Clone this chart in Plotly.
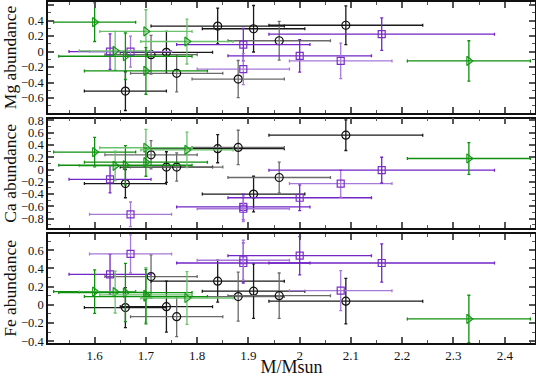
import plotly.graph_objects as go

# ---------------- data ----------------
mass_black = [1.66, 1.71, 1.74, 1.76, 1.84, 1.88, 1.91, 1.96, 2.09]
mass_black_err = [0.08, 0.09, 0.09, 0.09, 0.13, 0.09, 0.10, 0.10, 0.15]
mg_black = [-0.51, -0.04, -0.01, -0.28, 0.33, -0.355, 0.295, 0.14, 0.34]
mg_black_err = [0.25, 0.25, 0.27, 0.24, 0.23, 0.24, 0.30, 0.25, 0.25]
ca_black = [-0.23, 0.24, 0.04, 0.04, 0.34, 0.36, -0.40, -0.13, 0.56]
ca_black_err = [0.23, 0.23, 0.25, 0.23, 0.23, 0.28, 0.29, 0.25, 0.25]
fe_black = [-0.03, 0.31, -0.02, -0.13, 0.26, 0.09, 0.15, 0.10, 0.04]
fe_black_err = [0.22, 0.24, 0.28, 0.22, 0.23, 0.27, 0.30, 0.25, 0.25]

mass_purple = [1.63, 1.67, 1.89, 1.89, 2.00, 2.08, 2.16]
mass_purple_err = [0.08, 0.08, 0.13, 0.09, 0.14, 0.10, 0.22]
mg_purple = [0.00, 0.00, 0.09, -0.225, -0.055, -0.12, 0.225]
mg_purple_err = [0.23, 0.20, 0.21, 0.20, 0.21, 0.23, 0.21]
ca_purple = [-0.16, -0.73, -0.61, -0.64, -0.46, -0.23, -0.01]
ca_purple_err = [0.22, 0.20, 0.21, 0.21, 0.21, 0.22, 0.21]
fe_purple = [0.335, 0.56, 0.46, 0.49, 0.54, 0.155, 0.46]
fe_purple_err = [0.22, 0.21, 0.22, 0.22, 0.21, 0.22, 0.21]

mass_green = [1.60, 1.64, 1.66, 1.70, 1.70, 1.78, 2.33]
mass_green_err = [0.08, 0.07, 0.13, 0.09, 0.12, 0.09, 0.12]
mg_green = [0.38, 0.01, -0.06, 0.26, -0.25, 0.13, -0.12]
mg_green_err = [0.25, 0.25, 0.30, 0.28, 0.30, 0.29, 0.26]
ca_green = [0.285, 0.06, 0.07, 0.355, 0.12, 0.32, 0.18]
ca_green_err = [0.24, 0.24, 0.32, 0.30, 0.23, 0.29, 0.26]
fe_green = [0.145, 0.14, 0.135, 0.11, 0.09, 0.075, -0.155]
fe_green_err = [0.24, 0.23, 0.32, 0.30, 0.30, 0.29, 0.26]

x_ticks = [1.6, 1.7, 1.8, 1.9, 2.0, 2.1, 2.2, 2.3, 2.4]
x_ticktext = ["1.6", "1.7", "1.8", "1.9", "2", "2.1", "2.2", "2.3", "2.4"]
mg_ticks = [0.6, 0.4, 0.2, 0, -0.2, -0.4, -0.6]
mg_ticktext = ["0.6", "0.4", "0.2", "0", "−0.2", "−0.4", "−0.6"]
ca_ticks = [0.8, 0.6, 0.4, 0.2, 0, -0.2, -0.4, -0.6, -0.8]
ca_ticktext = ["0.8", "0.6", "0.4", "0.2", "0", "−0.2", "−0.4", "−0.6", "−0.8"]
fe_ticks = [0.6, 0.4, 0.2, 0, -0.2, -0.4]
fe_ticktext = ["0.6", "0.4", "0.2", "0", "−0.2", "−0.4"]

# ---------------- figure ----------------
FONT = "Liberation Serif, Times New Roman, serif"
fig = go.Figure()

series = [
    (mass_black, mass_black_err,
     [(mg_black, mg_black_err), (ca_black, ca_black_err), (fe_black, fe_black_err)],
     "circle-open", "#111111", ["#1a1a1a", "#6a6a6a"], 8),
    (mass_purple, mass_purple_err,
     [(mg_purple, mg_purple_err), (ca_purple, ca_purple_err), (fe_purple, fe_purple_err)],
     "square-open", "#7a2fc8", ["#7226c6", "#a77ad8"], 7),
    (mass_green, mass_green_err,
     [(mg_green, mg_green_err), (ca_green, ca_green_err), (fe_green, fe_green_err)],
     "triangle-right-open", "#129a12", ["#0f8f0f", "#6cc26c"], 8),
]

axis_names = [("x", "y"), ("x2", "y2"), ("x3", "y3")]

for mass, merr, panels, sym, mcol, bcols, msize in series:
    for p, (vals, errs) in enumerate(panels):
        xa, ya = axis_names[p]
        for i in range(len(mass)):
            bc = bcols[i % 2]
            fig.add_trace(go.Scatter(
                x=[mass[i]], y=[vals[i]], xaxis=xa, yaxis=ya,
                mode="markers",
                marker=dict(symbol=sym, size=msize, color=mcol,
                            line=dict(width=1.2, color=mcol)),
                error_x=dict(type="data", array=[merr[i]], color=bc,
                             thickness=1.3, width=1.5),
                error_y=dict(type="data", array=[errs[i]], color=bc,
                             thickness=1.3, width=1.5),
                showlegend=False, hoverinfo="skip",
            ))

def xcommon(anchor, labels):
    d = dict(range=[1.509, 2.459], anchor=anchor, showline=True, linewidth=1.6,
             linecolor="#111", mirror="ticks", ticks="inside", ticklen=6, tickwidth=1.5,
             tickcolor="#555", tickmode="array", tickvals=x_ticks,
             ticktext=x_ticktext, showgrid=False, zeroline=False,
             showticklabels=labels, automargin=False,
             minor=dict(dtick=0.05, tick0=1.55, ticks="inside", ticklen=3,
                        tickwidth=1.2, tickcolor="#555"),
             tickfont=dict(family=FONT, size=13, color="#111"))
    if labels:
        d["title"] = dict(text="M/Msun", font=dict(family=FONT, size=18, color="#111"),
                          standoff=4)
    return d

def ycommon(anchor, rng, tv, tt, title, dom):
    return dict(range=rng, domain=dom, anchor=anchor, showline=True, linewidth=1.6,
                linecolor="#111", mirror="ticks", ticks="inside", ticklen=6,
                tickwidth=1.5, tickcolor="#555", tickmode="array", tickvals=tv,
                ticktext=tt, showgrid=False, zeroline=False, automargin=False,
                minor=dict(dtick=0.1, tick0=0, ticks="inside", ticklen=3,
                           tickwidth=1.2, tickcolor="#555"),
                tickfont=dict(family=FONT, size=12.5, color="#111"),
                title=dict(text=title, font=dict(family=FONT, size=17.5, color="#111"),
                           standoff=2))

fig.update_layout(
    width=536, height=377,
    margin=dict(l=48, r=1, t=2, b=34),
    paper_bgcolor="white", plot_bgcolor="white",
    xaxis=xcommon("y", False),
    xaxis2=xcommon("y2", False),
    xaxis3=xcommon("y3", True),
    yaxis=ycommon("x", [-0.79, 0.64], mg_ticks, mg_ticktext, "Mg abundance", [0.675, 1.0]),
    yaxis2=ycommon("x2", [-0.955, 0.83], ca_ticks, ca_ticktext, "Ca abundance", [0.337, 0.658]),
    yaxis3=ycommon("x3", [-0.42, 0.78], fe_ticks, fe_ticktext, "Fe abundance", [0.0, 0.32]),
)

fig.write_html("out.html", config={"displayModeBar": False},
               post_script="document.body.style.margin='0px';")
